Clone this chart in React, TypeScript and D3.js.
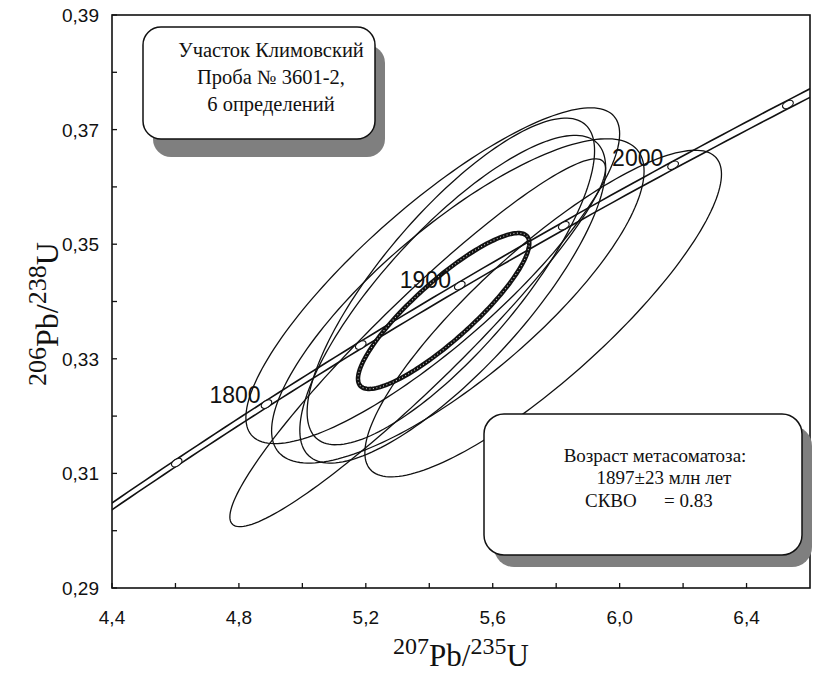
import React from "react";
import * as d3 from "d3";

// concordia ages (Ma) with markers, and which of them are labelled
const markerAges = [1750, 1800, 1850, 1900, 1950, 2000, 2050];
const labelAges = [1800, 1900, 2000];
const labelOffsets = [
  [-57, -1],
  [-60, 2],
  [-61, 1],
];

// analyses: 207Pb/235U, 206Pb/238U, half-extents of the error ellipse, rho
const ellX = [5.411, 5.49, 5.474, 5.468, 5.759, 5.3635];
const ellY = [0.3445, 0.3401, 0.3404, 0.3435, 0.3379, 0.3328];
const ellEx = [0.589, 0.587, 0.482, 0.453, 0.562, 0.592];
const ellEy = [0.0293, 0.0283, 0.0286, 0.0285, 0.0285, 0.0321];
const ellRho = [0.845, 0.8, 0.8, 0.8, 0.853, 0.947];

// weighted mean (concordia age) ellipse
const meanX = 5.4453;
const meanY = 0.33834;
const meanEx = 0.27;
const meanEy = 0.0136;
const meanRho = 0.87;

const xTicks = [4.4, 4.6, 4.8, 5.0, 5.2, 5.4, 5.6, 5.8, 6.0, 6.2, 6.4];
const xLabels = [4.4, 4.8, 5.2, 5.6, 6.0, 6.4];
const yTicks = [0.29, 0.3, 0.31, 0.32, 0.33, 0.34, 0.35, 0.36, 0.37, 0.38, 0.39];
const yLabels = [0.29, 0.31, 0.33, 0.35, 0.37, 0.39];

const sampleLines = ["Участок Климовский", "Проба № 3601-2,", "6 определений"];
const resultLines = ["Возраст метасоматоза:", "1897±23 млн лет"];

const L238 = 1.55125e-4; // per Ma
const L235 = 9.8485e-4;
const envErr = 0.0017;

const W = 815;
const H = 673;
const left = 112;
const right = 810;
const top = 15;
const bottom = 588;

const x = d3.scaleLinear().domain([4.4, 6.6]).range([left, right]);
const y = d3.scaleLinear().domain([0.29, 0.39]).range([bottom, top]);

const fmt = (v: number, p: number) => v.toFixed(p).replace(".", ",");

const conc = (t: number, k = 1): [number, number] => [
  Math.exp(L235 * k * t) - 1,
  Math.exp(L238 * t) - 1,
];

const line = d3.line<[number, number]>().x((d) => x(d[0])).y((d) => y(d[1]));

function ellipsePath(cx: number, cy: number, ex: number, ey: number, rho: number) {
  const pts: [number, number][] = d3.range(0, 361, 2).map((deg) => {
    const th = (deg * Math.PI) / 180;
    return [
      cx + ex * Math.cos(th),
      cy + ey * (rho * Math.cos(th) + Math.sqrt(1 - rho * rho) * Math.sin(th)),
    ];
  });
  return line.curve(d3.curveLinearClosed)(pts) || "";
}

const ages = d3.range(1600, 2201, 5);

export default function App() {
  const concLine = d3.line<[number, number]>().x((d) => x(d[0])).y((d) => y(d[1]));
  const upper = concLine(ages.map((t) => conc(t, 1 - envErr))) || "";
  const lower = concLine(ages.map((t) => conc(t, 1 + envErr))) || "";

  const meanD = ellipsePath(meanX, meanY, meanEx, meanEy, meanRho);

  return (
    <svg
      width={W}
      height={H}
      style={{ position: "absolute", left: 0, top: 0, background: "#fff" }}
    >
      <defs>
        <clipPath id="plot">
          <rect x={left} y={top} width={right - left} height={bottom - top} />
        </clipPath>
      </defs>

      <g clipPath="url(#plot)" fill="none" stroke="#111">
        <path d={upper} strokeWidth={1.6} />
        <path d={lower} strokeWidth={1.6} />
        {ellX.map((cx, i) => (
          <path
            key={i}
            d={ellipsePath(cx, ellY[i], ellEx[i], ellEy[i], ellRho[i])}
            strokeWidth={1.3}
          />
        ))}
        <path d={meanD} strokeWidth={4.5} />
        <path d={meanD} stroke="#fff" strokeWidth={1.1} strokeDasharray="1 2.5" opacity={0.8} />
        {markerAges.map((t) => {
          const [cx, cy] = conc(t);
          const [ax, ay] = conc(t + 5);
          const ang = (Math.atan2(y(ay) - y(cy), x(ax) - x(cx)) * 180) / Math.PI;
          return (
            <ellipse
              key={t}
              cx={0}
              cy={0}
              rx={5.8}
              ry={3.4}
              fill="#fff"
              strokeWidth={1.2}
              transform={`translate(${x(cx)},${y(cy)}) rotate(${ang})`}
            />
          );
        })}
      </g>

      {labelAges.map((t, i) => {
        const [cx, cy] = conc(t);
        return (
          <text
            key={t}
            x={x(cx) + labelOffsets[i][0]}
            y={y(cy) + labelOffsets[i][1]}
            fontFamily="Liberation Sans, Arial, sans-serif"
            fontSize={23}
            fill="#111"
          >
            {t}
          </text>
        );
      })}

      {/* frame */}
      <rect
        x={left}
        y={top}
        width={right - left}
        height={bottom - top}
        fill="none"
        stroke="#111"
        strokeWidth={1.6}
      />

      {/* ticks */}
      <g stroke="#111" strokeWidth={1.3}>
        {xTicks.map((v) => (
          <line key={v} x1={x(v)} x2={x(v)} y1={bottom} y2={bottom - 5} />
        ))}
        {yTicks.map((v) => (
          <line key={v} x1={left} x2={left + 5} y1={y(v)} y2={y(v)} />
        ))}
      </g>
      <g fontFamily="Liberation Sans, Arial, sans-serif" fontSize={19} fill="#111">
        {xLabels.map((v) => (
          <text key={v} x={x(v)} y={624} textAnchor="middle">
            {fmt(v, 1)}
          </text>
        ))}
        {yLabels.map((v) => (
          <text key={v} x={99} y={y(v) + 7} textAnchor="end">
            {fmt(v, 2)}
          </text>
        ))}
      </g>

      {/* axis titles */}
      <text x={393} y={666} fontFamily="Liberation Serif, Times New Roman, serif" fill="#111">
        <tspan fontSize={24} dy={-12}>207</tspan>
        <tspan fontSize={31} dy={12}>Pb</tspan>
        <tspan fontSize={31}>/</tspan>
        <tspan fontSize={24} dy={-12}>235</tspan>
        <tspan fontSize={31} dy={12}>U</tspan>
      </text>
      <text
        transform="translate(58,386) rotate(-90)"
        fontFamily="Liberation Serif, Times New Roman, serif"
        fill="#111"
      >
        <tspan fontSize={26} dy={-12}>206</tspan>
        <tspan fontSize={32} dy={12}>Pb</tspan>
        <tspan fontSize={32}>/</tspan>
        <tspan fontSize={26} dy={-12}>238</tspan>
        <tspan fontSize={32} dy={12}>U</tspan>
      </text>

      {/* sample box */}
      <rect x={153} y={45} width={232} height={112} rx={18} fill="#7f7f7f" />
      <rect x={143} y={27} width={232} height={112} rx={18} fill="#fff" stroke="#111" strokeWidth={1.5} />
      <g fontFamily="Liberation Serif, Times New Roman, serif" fontSize={20.5} fill="#111" textAnchor="middle">
        {sampleLines.map((s, i) => (
          <text key={s} x={271} y={57 + i * 27}>
            {s}
          </text>
        ))}
      </g>

      {/* result box */}
      <rect x={494} y={426} width={318} height={141} rx={20} fill="#7f7f7f" />
      <rect x={484} y={414} width={318} height={141} rx={20} fill="#fff" stroke="#111" strokeWidth={1.5} />
      <g fontFamily="Liberation Serif, Times New Roman, serif" fontSize={19} fill="#111">
        <text x={655} y={462} textAnchor="middle">{resultLines[0]}</text>
        <text x={664} y={484} textAnchor="middle">{resultLines[1]}</text>
        <text x={585} y={507}>СКВО</text>
        <text x={664} y={507}>= 0.83</text>
      </g>
    </svg>
  );
}
